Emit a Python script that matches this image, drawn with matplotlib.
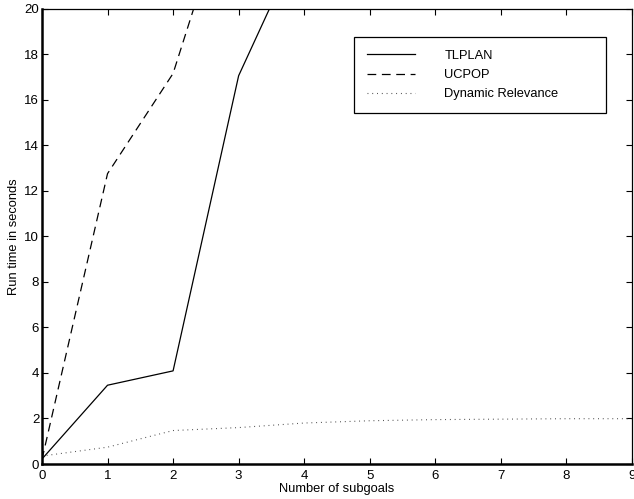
import numpy as np
import matplotlib
matplotlib.use("Agg")
import matplotlib.pyplot as plt

plt.rcParams['font.family'] = ['Liberation Sans', 'DejaVu Sans']

# data
subgoals = [0, 1, 2, 3, 4, 5, 6, 7, 8, 9]
tlplan_x = [0, 1, 2, 3, 4]
tlplan = [0.22, 3.46, 4.09, 17.05, 23.3]
ucpop_x = [0, 1, 2, 3]
ucpop = [0.2, 12.75, 17.15, 26.2]
dynrel = [0.35, 0.74, 1.47, 1.6, 1.8, 1.9, 1.95, 1.97, 1.99, 1.99]

fig = plt.figure(figsize=(6.34, 4.99), dpi=100)
ax = fig.add_axes([0.0662, 0.0701, 0.9306, 0.9128])

ax.plot(tlplan_x, tlplan, color='black', lw=0.9, label='TLPLAN')
ax.plot(ucpop_x, ucpop, color='black', lw=0.9, dashes=(7, 4.5), label='UCPOP')
ax.plot(subgoals, dynrel, color='#444444', lw=0.8, dashes=(0.8, 3.5), label='Dynamic Relevance')

ax.set_xlim(0, 9)
ax.set_ylim(0, 20)
ax.set_xticks(range(0, 10))
ax.set_yticks(range(0, 21, 2))
ax.tick_params(direction='in', length=4, width=0.8, top=True, right=True,
               labelsize=9.5)
ax.tick_params(axis='x', pad=4)
ax.tick_params(axis='y', pad=2)
for s in ['left', 'bottom']:
    ax.spines[s].set_linewidth(1.8)
for s in ['top', 'right']:
    ax.spines[s].set_linewidth(0.9)

ax.set_xlabel('Number of subgoals', fontsize=9.3, labelpad=1)
ax.set_ylabel('Run time in seconds', fontsize=9.3, labelpad=3)

leg = ax.legend(loc='upper left', bbox_to_anchor=(0.5288, 0.9374, 0.427, 0.0),
                mode='expand', fontsize=9.3,
                fancybox=False, framealpha=1, edgecolor='black',
                handlelength=3.7, handletextpad=2.3, borderpad=1.0,
                labelspacing=0.55, borderaxespad=0)
leg.get_frame().set_linewidth(0.9)

fig.savefig('out.png', dpi=100)
